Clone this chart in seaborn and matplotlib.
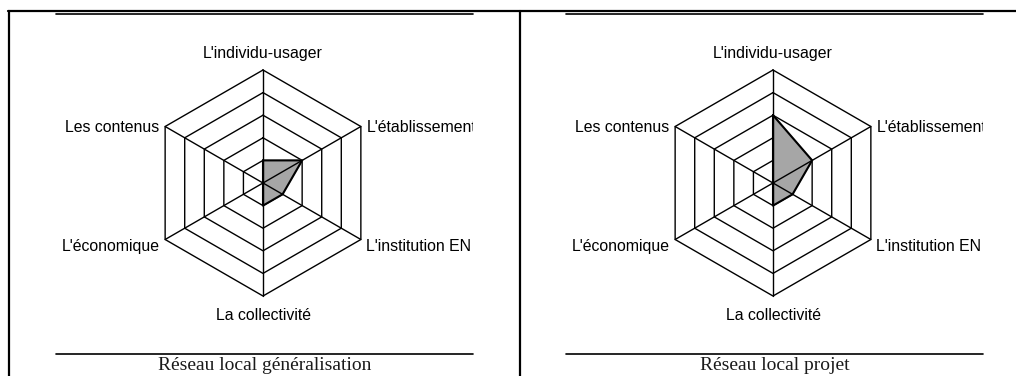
import numpy as np
import matplotlib.pyplot as plt
import seaborn as sns
from matplotlib.lines import Line2D

sns.set_theme(style="white")
plt.rcParams['font.family'] = ['Liberation Sans', 'DejaVu Sans']

# axes of the radar, clockwise from the top
categories = ["L'individu-usager", "L'établissement", "L'institution EN",
              "La collectivité", "L'économique", "Les contenus"]
generalisation = [1, 2, 1, 1, 0, 0]
projet = [3, 2, 1, 1, 0, 0]
captions = ["Réseau local généralisation", "Réseau local projet"]
levels = [1, 2, 3, 4, 5]

W, H = 1016, 376
fig = plt.figure(figsize=(W / 100, H / 100), dpi=100)

unit = 22.6  # pixels per level


def radar(ax, values):
    n = len(categories)
    ang = np.linspace(0, 2 * np.pi, n, endpoint=False)
    sx, sy = np.sin(ang), np.cos(ang)
    # rings
    for lv in levels:
        ax.plot(np.append(sx, sx[0]) * lv, np.append(sy, sy[0]) * lv,
                color="black", lw=1, zorder=1)
    # data polygon
    v = np.array(values, dtype=float)
    ax.fill(v * sx, v * sy, color="#a6a6a6", zorder=2)
    ax.plot(np.append(v * sx, v[0] * sx[0]), np.append(v * sy, v[0] * sy[0]),
            color="black", lw=1.5, zorder=3)
    # spokes
    for a, b in zip(sx, sy):
        ax.plot([0, a * levels[-1]], [0, b * levels[-1]], color="black", lw=1, zorder=4)
    # labels
    r = levels[-1] + 0.28
    for i, lab in enumerate(categories):
        x, y = sx[i] * r, sy[i] * r - 0.17
        if abs(sx[i]) < 1e-6:
            ha = "center"
            va = "bottom" if sy[i] > 0 else "top"
            y = sy[i] * (levels[-1] + 0.45) - 0.07
        else:
            ha = "left" if sx[i] > 0 else "right"
            va = "center"
        ax.text(x, y, lab, ha=ha, va=va, fontsize=11.4, color="black", clip_on=True)


for k, (vals, cap) in enumerate(zip([generalisation, projet], captions)):
    cx = 263 + k * 510
    left, right = cx - 207, cx + 210
    top, bottom = 14, 352
    cy = 183
    ax = fig.add_axes([left / W, 1 - bottom / H, (right - left) / W, (bottom - top) / H])
    ax.set_xlim((left - cx) / unit, (right - cx) / unit)
    ax.set_ylim((cy - bottom) / unit, (cy - top) / unit)
    ax.set_axis_off()
    radar(ax, vals)
    # thin rules of the cell
    for yy in (13.5, 354):
        fig.add_artist(Line2D([left / W, right / W], [1 - yy / H, 1 - yy / H],
                              color="black", lw=1.2))
    fig.text((left + right) / 2 / W, 1 - 357.5 / H, cap, ha="center", va="top",
             fontsize=14, family=["Liberation Serif", "DejaVu Serif"], color="#1a1a1a")

# table borders
fig.add_artist(Line2D([8 / W, 1], [1 - 11 / H, 1 - 11 / H], color="black", lw=1.6))
for xx in (9, 520):
    fig.add_artist(Line2D([xx / W, xx / W], [1 - 11 / H, 0], color="black", lw=1.6))

fig.savefig("out.png", dpi=100)
